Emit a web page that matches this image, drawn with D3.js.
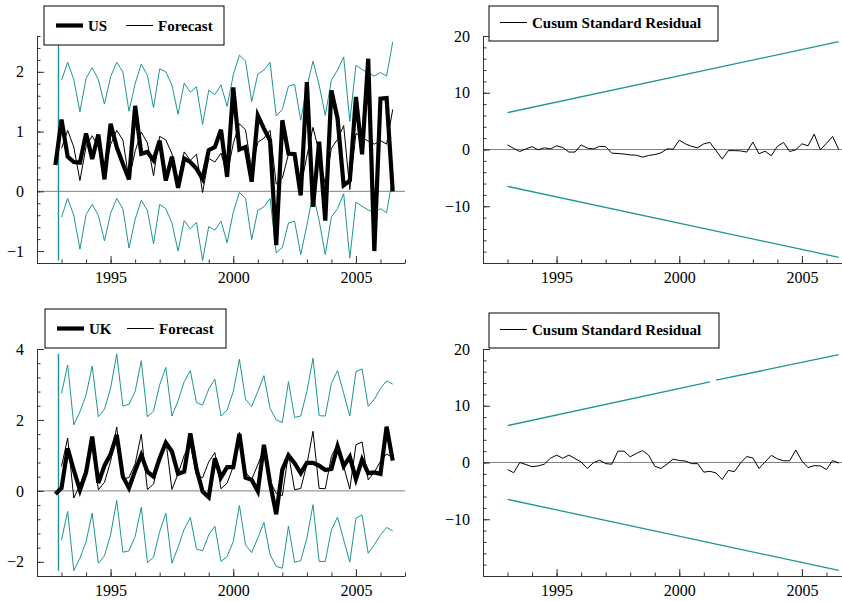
<!DOCTYPE html>
<html>
<head>
<meta charset="utf-8">
<script src="https://cdnjs.cloudflare.com/ajax/libs/d3/7.8.5/d3.min.js"></script>
<style>
  body { margin: 0; background: #fff; }
  svg { display: block; }
</style>
</head>
<body>
<script>
// quarterly index, 1992Q4 .. 2006Q3; forecasts start 1993Q1
const quarters = d3.range(1992.75, 2006.51, 0.25);
const fcQuarters = quarters.slice(1);

// ---- US ----
const usActual = [0.44,
  1.20, 0.58, 0.49, 0.48,  0.97, 0.54, 0.95, 0.20,  1.13, 0.74, 0.46, 0.20,
  1.43, 0.63, 0.66, 0.52,  0.85, 0.18, 0.58, 0.06,  0.55, 0.49, 0.38, 0.21,
  0.69, 0.74, 1.03, 0.24,  1.74, 0.70, 0.74, 0.16,  1.27, 1.05, 0.85, -0.90,
  1.19, 0.63, 0.62, -0.07, 1.83, -0.26, 0.83, -0.49, 1.69, 1.22, 0.10, 0.18,
  1.58, 0.62, 2.22, -1.00, 1.55, 1.56, 0.00];
const usForecast = [
  0.72, 1.02, 0.74, 0.18,  0.75, 0.93, 0.74, 0.32,  0.78, 1.02, 0.86, 0.20,
  0.67, 0.99, 0.81, 0.26,  0.92, 0.86, 0.63, 0.15,  0.66, 0.52, 0.62, -0.02,
  0.55, 0.49, 0.64, 0.28,  0.80, 1.13, 1.03, 0.35,  0.82, 0.89, 1.02, 0.12,
  0.22, 0.62, 0.65, 0.07,  0.59, 1.07, 0.65, 0.11,  0.72, 0.87, 1.10, 0.03,
  0.97, 0.90, 0.84, 0.79,  0.85, 0.79, 1.37];
const usUpper = [
  1.86, 2.16, 1.87, 1.33,  1.89, 2.07, 1.87, 1.46,  1.92, 2.16, 2.00, 1.34,
  1.80, 2.13, 1.94, 1.40,  2.05, 2.00, 1.78, 1.29,  1.81, 1.66, 1.75, 1.12,
  1.69, 1.62, 1.78, 1.42,  1.95, 2.28, 2.18, 1.50,  1.96, 2.03, 2.16, 1.26,
  1.37, 1.76, 1.79, 1.19,  1.75, 2.18, 1.78, 1.27,  1.86, 2.03, 2.25, 1.17,
  2.11, 2.04, 1.98, 1.93,  1.99, 1.93, 2.50];
const usLower = [
  -0.43, -0.12, -0.40, -0.97,  -0.39, -0.22, -0.40, -0.83,  -0.37, -0.12, -0.29, -0.95,
  -0.47, -0.15, -0.32, -0.88,  -0.22, -0.29, -0.53, -1.00,  -0.49, -0.63, -0.52, -1.16,
  -0.59, -0.65, -0.50, -0.86,  -0.35, -0.02, -0.12, -0.81,  -0.32, -0.26, -0.12, -1.03,
  -0.94, -0.53, -0.50, -1.06,  -0.57, -0.04, -0.49, -1.06,  -0.43, -0.29, -0.04, -1.12,
  -0.18, -0.25, -0.31, -0.36,  -0.29, -0.36, 0.24];
const usBandSpan = [-1.16, 2.50];

// ---- UK ----
const ukActual = [-0.09,
  0.08, 1.20, 0.59, 0.02,  0.52, 1.53, 0.22, 0.71,  1.03, 1.58, 0.40, 0.08,
  0.57, 1.01, 0.54, 0.40,  0.92, 1.36, 1.11, 0.48,  0.54, 1.62, 0.62, -0.02,
  -0.18, 0.92, 0.38, 0.67, 0.67, 1.61, 0.37, 0.31,  -0.01, 1.30, 0.22, -0.66,
  0.60, 1.00, 0.78, 0.50,  0.79, 0.79, 0.71, 0.59,  0.62, 1.26, 0.70, 0.96,
  0.33, 0.88, 0.50, 0.52,  0.48, 1.81, 0.85];
const ukForecast = [
  0.69, 1.49, -0.20, 0.17,  0.64, 1.45, 0.03, 0.24,  0.83, 1.80, 0.33, 0.38,
  0.76, 1.60, 0.04, 0.19,  0.92, 1.43, 0.04, 0.48,  1.00, 1.32, 0.43, 0.37,
  0.82, 1.08, 0.06, 0.22,  0.69, 1.65, 0.53, 0.32,  0.74, 1.18, 0.27, -0.07,
  -0.13, 1.05, 0.03, 0.07, 0.74, 1.68, 0.07, 0.06,  0.97, 1.33, 0.69, 0.05,
  1.30, 1.38, 0.31, 0.53,  0.83, 1.04, 0.94];
const ukUpper = [
  2.75, 3.55, 1.86, 2.23,  2.70, 3.52, 2.09, 2.30,  2.89, 3.86, 2.39, 2.44,
  2.80, 3.67, 2.09, 2.25,  2.99, 3.48, 2.11, 2.54,  3.08, 3.39, 2.49, 2.42,
  2.87, 3.15, 2.11, 2.28,  2.80, 3.71, 2.58, 2.38,  2.80, 3.25, 2.33, 2.00,
  1.93, 3.08, 2.07, 2.11,  2.80, 3.74, 2.12, 2.11,  3.03, 3.39, 2.75, 2.11,
  3.36, 3.44, 2.38, 2.58,  2.89, 3.10, 3.01];
const ukLower = [
  -1.38, -0.58, -2.25, -1.90,  -1.43, -0.63, -2.04, -1.83,  -1.24, -0.27, -1.73, -1.69,
  -1.29, -0.46, -2.02, -1.87,  -1.15, -0.63, -2.04, -1.59,  -1.08, -0.75, -1.64, -1.69,
  -1.24, -1.00, -1.99, -1.85,  -1.43, -0.41, -1.52, -1.74,  -1.33, -0.89, -1.80, -2.13,
  -2.18, -0.99, -2.01, -1.97,  -1.33, -0.39, -1.99, -1.99,  -1.10, -0.74, -1.38, -2.01,
  -0.77, -0.68, -1.76, -1.52,  -1.24, -1.03, -1.13];
const ukBandSpan = [-2.25, 3.86];

// ---- CUSUM ----
const usCusum = [
  0.8, 0.2, -0.35, 0.1,   0.5, -0.05, 0.3, 0.1,    0.65, 0.35, -0.45, -0.45,
  0.8, 0.25, 0.1, 0.55,   0.5, -0.65, -0.7, -0.8,  -0.95, -1.0, -1.35, -1.05,
  -0.9, -0.6, 0.1, 0.05,  1.65, 1.0, 0.55, 0.3,    1.0, 1.25, -0.2, -1.7,
  -0.2, -0.2, -0.25, -0.45, 1.3, -0.75, -0.3, -1.1, 0.55, 1.25, -0.35, -0.05,
  1.0, 0.65, 2.7, -0.05,  1.1, 2.3, 0.0];
const ukCusum = [
  -1.25, -1.8, 0.0, -0.35,  -0.75, -0.6, -0.3, 0.75,  1.3, 0.75, 1.3, 0.7,
  0.1, -1.05, -0.05, 0.4,   -0.2, -0.3, 2.0, 2.0,     1.0, 1.6, 2.1, 1.3,
  -0.65, -1.05, -0.3, 0.6,  0.35, 0.25, -0.2, -0.2,   -1.7, -1.55, -1.85, -3.0,
  -1.4, -1.6, -0.05, 1.05,  0.8, -1.05, 0.1, 1.25,    0.65, 0.3, 0.3, 2.2,
  0.25, -0.9, -0.55, -0.6,  -1.25, 0.35, -0.1];
const usCusumUpper = [[[1993, 6.5], [2006.5, 19]]];
const usCusumLower = [[[1993, -6.5], [2006.5, -19]]];
const ukCusumUpper = [[[1993, 6.5], [2001.25, 14.2]], [[2001.5, 14.5], [2006.5, 19]]];
const ukCusumLower = [[[1993, -6.5], [2006.5, -19]]];

const TEAL = "#1e9494";
const SERIF = "Liberation Serif";

const svg = d3.select("body").append("svg").attr("width", 842).attr("height", 602);

function frame(p) {
  const x = d3.scaleLinear().domain([1992, 2007]).range([p.left, p.left + 368]);
  const y = d3.scaleLinear().domain(p.yDomain).range([p.bottom, p.top]);

  svg.append("line")
    .attr("x1", x(1992)).attr("x2", x(2007))
    .attr("y1", y(0)).attr("y2", y(0))
    .attr("stroke", "#808080").attr("stroke-width", 1);

  svg.append("g").attr("transform", "translate(0," + p.bottom + ")")
    .call(d3.axisBottom(x).tickValues(d3.range(1993, 2008)).tickSize(-3.5).tickFormat(""))
    .attr("color", "#333")
    .call(g => g.select(".domain").remove());
  const gx = svg.append("g").attr("transform", "translate(0," + p.bottom + ")")
    .call(d3.axisBottom(x).tickValues([1995, 2000, 2005]).tickSize(-7).tickSizeOuter(0)
      .tickPadding(8.5).tickFormat(d3.format("d")));
  gx.attr("color", "#333");
  gx.selectAll("text").attr("fill", "#000")
    .style("font-family", SERIF).style("font-size", "16px");

  svg.append("g").attr("transform", "translate(" + p.left + ",0)")
    .call(d3.axisLeft(y).tickValues(p.minorY).tickSize(-3.5).tickFormat(""))
    .attr("color", "#333")
    .call(g => g.select(".domain").remove());
  const gy = svg.append("g").attr("transform", "translate(" + p.left + ",0)")
    .call(d3.axisLeft(y).tickValues(p.majorY).tickSize(-7).tickSizeOuter(0)
      .tickPadding(13).tickFormat(d3.format("d")));
  gy.attr("color", "#333");
  gy.selectAll("text").attr("fill", "#000")
    .style("font-family", SERIF).style("font-size", "16px");

  return {x, y};
}

function legend(box, items) {
  const g = svg.append("g");
  g.append("rect").attr("x", box[0]).attr("y", box[1]).attr("width", box[2]).attr("height", box[3])
    .attr("fill", "#fff").attr("stroke", "#000").attr("stroke-width", 1);
  items.forEach(it => {
    g.append("line").attr("x1", it.x).attr("x2", it.x + 27)
      .attr("y1", it.y - 5.5).attr("y2", it.y - 5.5)
      .attr("stroke", "#000").attr("stroke-width", it.w);
    g.append("text").attr("x", it.x + 32).attr("y", it.y).text(it.label)
      .style("font-family", SERIF).style("font-size", "15px").style("font-weight", "bold");
  });
}

function forecastPanel(p, actual, forecast, upper, lower, span, name) {
  const {x, y} = frame(p);
  const line = d3.line().x(d => x(d[0])).y(d => y(d[1]));

  svg.append("line")
    .attr("x1", x(1992.875)).attr("x2", x(1992.875))
    .attr("y1", y(span[0])).attr("y2", y(span[1]))
    .attr("stroke", TEAL).attr("stroke-width", 1.4);

  [upper, lower].forEach(band => {
    svg.append("path").datum(d3.zip(fcQuarters, band))
      .attr("d", line).attr("fill", "none").attr("stroke", TEAL).attr("stroke-width", 1);
  });
  svg.append("path").datum(d3.zip(fcQuarters, forecast))
    .attr("d", line).attr("fill", "none").attr("stroke", "#000").attr("stroke-width", 1);
  svg.append("path").datum(d3.zip(quarters, actual))
    .attr("d", line).attr("fill", "none").attr("stroke", "#000").attr("stroke-width", 4.2);

  legend(p.legendBox, [
    {x: p.legendBox[0] + 12, y: p.legendBox[1] + 25, w: 4.2, label: name},
    {x: p.legendBox[0] + 82, y: p.legendBox[1] + 25, w: 1, label: "Forecast"}
  ]);
}

function cusumPanel(p, cusum, upperSegs, lowerSegs) {
  const {x, y} = frame(p);
  const line = d3.line().x(d => x(d[0])).y(d => y(d[1]));

  upperSegs.concat(lowerSegs).forEach(seg => {
    svg.append("path").datum(seg)
      .attr("d", line).attr("fill", "none").attr("stroke", TEAL).attr("stroke-width", 1.3);
  });
  svg.append("path").datum(d3.zip(fcQuarters, cusum))
    .attr("d", line).attr("fill", "none").attr("stroke", "#000").attr("stroke-width", 1);

  legend(p.legendBox, [
    {x: p.legendBox[0] + 11, y: p.legendBox[1] + 22, w: 1, label: "Cusum Standard Residual"}
  ]);
}

forecastPanel({left: 37, top: 36, bottom: 263, yDomain: [-1.2, 2.6],
    majorY: [-1, 0, 1, 2], minorY: d3.range(-12, 27, 2).map(v => v / 10),
    legendBox: [44, 6, 180, 39]},
  usActual, usForecast, usUpper, usLower, usBandSpan, "US");

forecastPanel({left: 37, top: 349, bottom: 576, yDomain: [-2.4, 4],
    majorY: [-2, 0, 2, 4], minorY: d3.range(-24, 41, 4).map(v => v / 10),
    legendBox: [45, 309, 181, 39]},
  ukActual, ukForecast, ukUpper, ukLower, ukBandSpan, "UK");

cusumPanel({left: 483, top: 36, bottom: 263, yDomain: [-20, 20],
    majorY: [-10, 0, 10, 20], minorY: d3.range(-20, 21, 2),
    legendBox: [489, 6, 229, 35]},
  usCusum, usCusumUpper, usCusumLower);

cusumPanel({left: 483, top: 349, bottom: 576, yDomain: [-20, 20],
    majorY: [-10, 0, 10, 20], minorY: d3.range(-20, 21, 2),
    legendBox: [489, 313, 230, 35]},
  ukCusum, ukCusumUpper, ukCusumLower);
</script>
</body>
</html>
